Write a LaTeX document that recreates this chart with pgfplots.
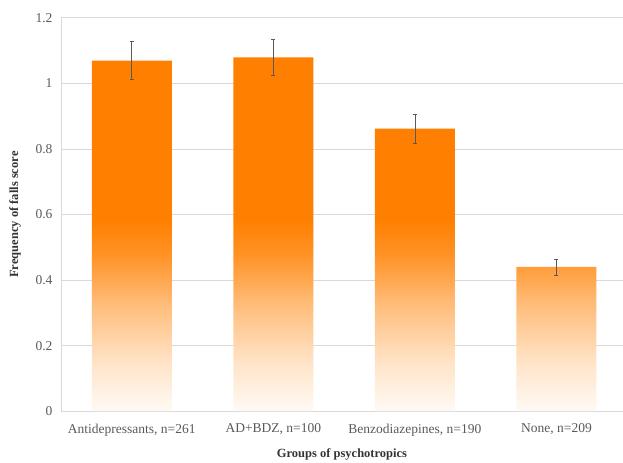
\documentclass[border=0pt]{standalone}
\usepackage{pgfplots}
\pgfplotsset{compat=1.18}
\usepackage{fontspec}
\setmainfont{Liberation Serif}
\usetikzlibrary{calc}
\definecolor{barorange}{RGB}{255,128,0}
\definecolor{gridgray}{RGB}{217,217,217}
\definecolor{textgray}{RGB}{89,89,89}
% bottom of bar = 25bp, top = 75bp
\pgfdeclareverticalshading{barfade}{100bp}{%
  color(0bp)=(barorange!4); color(25bp)=(barorange!4);
  color(32bp)=(barorange!22); color(40bp)=(barorange!52);
  color(47bp)=(barorange!85); color(52bp)=(barorange);
  color(100bp)=(barorange)}
\begin{document}
\begin{tikzpicture}
\begin{axis}[
    name=ax,
    scale only axis,
    width=561.8pt, height=393pt,
    xmin=-0.5, xmax=3.47,
    ymin=0, ymax=1.2,
    xtick=data,
    xticklabels={{Antidepressants, n=261},{AD+BDZ, n=100},{Benzodiazepines, n=190},{None, n=209}},
    ytick={0,0.2,...,1.2},
    yticklabels={0,0.2,0.4,0.6,0.8,1,1.2},
    axis x line=bottom, axis y line=left,
    axis line style={draw=gridgray, line width=1pt, -},
    major tick length=0pt,
    ymajorgrids,
    grid style={draw=gridgray, line width=1pt},
    tick label style={font=\fontsize{13.5}{15}\selectfont, text=textgray},
    /pgf/number format/assume math mode=true,
    xticklabel style={yshift=-9pt},
    yticklabel style={xshift=-5pt},
    xlabel={\bfseries Groups of psychotropics},
    ylabel={\bfseries Frequency of falls score},
    label style={font=\fontsize{12.5}{14}\selectfont, text=black!80},
    xlabel style={yshift=-6pt},
    ylabel style={yshift=8pt},
    clip=false,
]
\addplot[ybar, bar width=80pt, draw=none, shading=barfade] coordinates {
(0, 1.07)
(1, 1.08)
(2, 0.862)
(3, 0.44)
};
\addplot[draw=none, mark=none, forget plot,
    error bars/.cd, y dir=both, y explicit,
    error bar style={draw=textgray, line width=0.6pt},
    error mark options={rotate=90, mark size=2pt, draw=textgray, line width=0.6pt}]
coordinates {
(0, 1.071) +- (0, 0.057)
(1, 1.080) +- (0, 0.054)
(2, 0.862) +- (0, 0.044)
(3, 0.440) +- (0, 0.024)
};
\end{axis}
\pgfresetboundingbox
\path ($(ax.south west)+(-61pt,-51pt)$) rectangle ($(ax.north east)+(0pt,18pt)$);
\end{tikzpicture}
\end{document}
